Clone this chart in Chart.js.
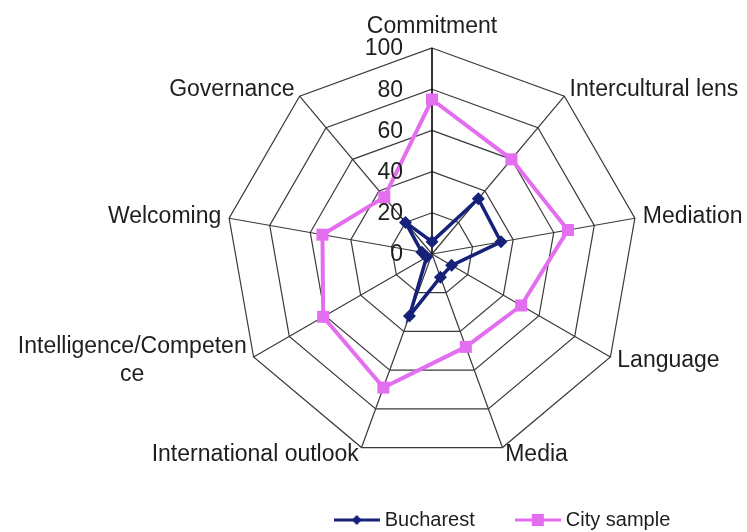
<!DOCTYPE html>
<html>
<head>
<meta charset="utf-8">
<script src="https://cdn.jsdelivr.net/npm/chart.js@4"></script>
<style>
  body { margin: 0; background: #fff; }
</style>
</head>
<body>
<canvas id="myChart" width="747" height="532"></canvas>
<script>
const labels = [
  'Commitment',
  'Intercultural lens',
  'Mediation',
  'Language',
  'Media',
  'International outlook',
  ['Intelligence/Competen', 'ce'],
  'Welcoming',
  'Governance',
];

const bucharest = [6, 35, 34, 11, 12, 32, 3, 5, 20];
const citySample = [75, 60, 67, 50, 48, 69, 61, 54, 36];

const tickValues = [0, 20, 40, 60, 80, 100];

const navy = '#16217a';
const pink = '#e36ff0';
const textColor = '#1e1e1e';
const fontFamily = '"Liberation Sans", Arial, sans-serif';

// little line + marker pictures for the legend
function legendIcon(color, shape) {
  const c = document.createElement('canvas');
  c.width = 46;
  c.height = 14;
  const g = c.getContext('2d');
  g.strokeStyle = color;
  g.lineWidth = 3;
  g.beginPath();
  g.moveTo(0, 7);
  g.lineTo(46, 7);
  g.stroke();
  g.fillStyle = color;
  g.beginPath();
  if (shape === 'diamond') {
    g.moveTo(23, 2);
    g.lineTo(28, 7);
    g.lineTo(23, 12);
    g.lineTo(18, 7);
  } else {
    g.rect(17, 1, 12, 12);
  }
  g.fill();
  return c;
}
const icons = [legendIcon(navy, 'diamond'), legendIcon(pink, 'square')];

// tick numbers and axis names, placed from the radial scale
const radarText = {
  id: 'radarText',
  afterDraw(chart) {
    const scale = chart.scales.r;
    const ctx = chart.ctx;
    const R = scale.drawingArea;
    ctx.save();
    ctx.fillStyle = textColor;
    ctx.font = '23px ' + fontFamily;

    // tick labels left of the vertical axis
    ctx.textAlign = 'right';
    ctx.textBaseline = 'middle';
    tickValues.forEach(v => {
      const p = scale.getPointPositionForValue(0, v);
      ctx.fillText(String(v), p.x - 29, p.y + 1);
    });

    // point labels
    const lineH = 28;
    chart.data.labels.forEach((lab, i) => {
      const lines = Array.isArray(lab) ? lab : [lab];
      const p = scale.getPointPosition(i, R + 8);
      const w = Math.max(...lines.map(t => ctx.measureText(t).width));
      const dx = p.x - scale.xCenter;
      ctx.textAlign = 'center';
      if (Math.abs(dx) < 1) {
        ctx.textBaseline = 'alphabetic';
        ctx.fillText(lines[0], p.x, p.y - 7);
        return;
      }
      const left = dx > 0 ? p.x : p.x - w;
      const top = p.y - (lines.length * lineH) / 2;
      ctx.textBaseline = 'middle';
      lines.forEach((t, k) => {
        ctx.fillText(t, left + w / 2, top + lineH * (k + 0.5));
      });
    });
    ctx.restore();
  }
};

const data = {
  labels,
  datasets: [
    {
      label: 'Bucharest',
      data: bucharest,
      borderColor: navy,
      backgroundColor: navy,
      borderWidth: 3.5,
      pointStyle: 'rectRot',
      pointRadius: 6.5,
      pointBackgroundColor: navy,
      pointBorderWidth: 0,
      fill: false,
    },
    {
      label: 'City sample',
      data: citySample,
      borderColor: pink,
      backgroundColor: pink,
      borderWidth: 4,
      pointStyle: 'rect',
      pointRadius: 8.5,
      pointBackgroundColor: pink,
      pointBorderWidth: 0,
      fill: false,
    },
  ],
};

const config = {
  type: 'radar',
  data: data,
  plugins: [radarText],
  options: {
    responsive: false,
    animation: false,
    layout: {
      padding: { left: 262, right: 0, top: 0, bottom: -8 },
    },
    elements: {
      line: { tension: 0 },
    },
    scales: {
      r: {
        min: 0,
        max: 100,
        startAngle: 0,
        ticks: { stepSize: 20, display: false },
        pointLabels: { display: false },
        grid: { color: '#3a3a3a', lineWidth: 1.2 },
        angleLines: {
          color: ctx => ctx.index === 0 ? '#111' : '#3a3a3a',
          lineWidth: ctx => ctx.index === 0 ? 1.7 : 1.2,
        },
        afterFit(scale) {
          scale.xCenter = 432;
          scale.yCenter = 254;
          scale.drawingArea = 206;
        },
      },
    },
    plugins: {
      tooltip: { enabled: false },
      legend: {
        position: 'bottom',
        labels: {
          usePointStyle: true,
          pointStyleWidth: 36,
          padding: 45,
          color: textColor,
          font: { size: 20, family: fontFamily },
          generateLabels(chart) {
            const items = Chart.defaults.plugins.legend.labels.generateLabels(chart);
            items.forEach((it, i) => { it.pointStyle = icons[i]; });
            return items;
          },
        },
      },
    },
  },
};

const myChart = new Chart(document.getElementById('myChart').getContext('2d'), config);
</script>
</body>
</html>
